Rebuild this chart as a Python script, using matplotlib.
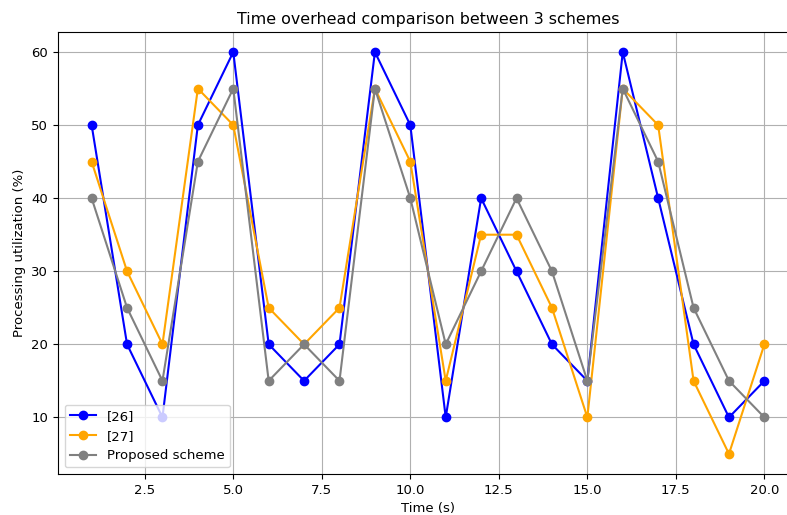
import numpy as np
import matplotlib
matplotlib.use('Agg')
import matplotlib.pyplot as plt

plt.rcParams['font.size'] = 9.5

tiempo = list(range(1, 21))
esquema_26 = [50, 20, 10, 50, 60, 20, 15, 20, 60, 50, 10, 40, 30, 20, 15, 60, 40, 20, 10, 15]
esquema_27 = [45, 30, 20, 55, 50, 25, 20, 25, 55, 45, 15, 35, 35, 25, 10, 55, 50, 15, 5, 20]
propuesto = [40, 25, 15, 45, 55, 15, 20, 15, 55, 40, 20, 30, 40, 30, 15, 55, 45, 25, 15, 10]

fig = plt.figure(figsize=(7.87, 5.15), dpi=100)
# la imagen original viene recortada por la derecha
ax = fig.add_axes([0.0737, 0.0796, 0.9403, 0.8584])
ax.plot(tiempo, esquema_26, 'o-', color='blue', label='[26]')
ax.plot(tiempo, esquema_27, 'o-', color='orange', label='[27]')
ax.plot(tiempo, propuesto, 'o-', color='gray', label='Proposed scheme')

ax.set_title('Time overhead comparison between 3 schemes', fontsize=11.4)
ax.set_xlabel('Time (s)')
ax.set_ylabel('Processing utilization (%)')
ax.legend(loc='lower left')
ax.grid(True)
fig.savefig('out.png', dpi=100)
